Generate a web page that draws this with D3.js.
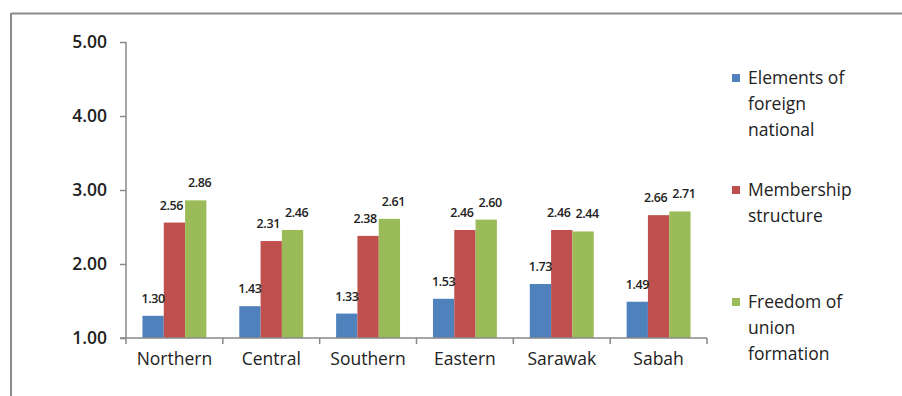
<!DOCTYPE html>
<html>
<head>
<meta charset="utf-8">
<script src="https://cdn.jsdelivr.net/npm/d3@7"></script>
<style>
  html, body { margin: 0; padding: 0; background: #fff; }
  svg { display: block; font-family: "Open Sans", "Noto Sans", sans-serif; }
</style>
</head>
<body>
<svg id="chart" width="902" height="396"></svg>
<script>
// Regions surveyed and the three attitude dimensions (mean scores)
const regions = ["Northern", "Central", "Southern", "Eastern", "Sarawak", "Sabah"];
const seriesNames = [
  ["Elements of", "foreign", "national"],
  ["Membership", "structure"],
  ["Freedom of", "union", "formation"]
];
const foreignElements = [1.30, 1.43, 1.33, 1.53, 1.73, 1.49];
const membership      = [2.56, 2.31, 2.38, 2.46, 2.46, 2.66];
const unionFreedom    = [2.86, 2.46, 2.61, 2.60, 2.44, 2.71];
const yTicks = [1, 2, 3, 4, 5];
const colors = ["#4F81BD", "#C0504D", "#9BBB59"];

const series = [foreignElements, membership, unionFreedom];
// nudge neighbouring value labels apart so they don't collide
const labelNudge = [0, -3, 4];

const svg = d3.select("#chart");

// Outer frame (top and left edges visible)
svg.append("line").attr("x1", 11).attr("x2", 902).attr("y1", 13.5).attr("y2", 13.5)
  .attr("stroke", "#8c8c8c").attr("stroke-width", 2);
svg.append("line").attr("x1", 11).attr("x2", 11).attr("y1", 13).attr("y2", 396)
  .attr("stroke", "#8c8c8c").attr("stroke-width", 2);

const plot = { left: 126, right: 707, top: 42, bottom: 338 };

const x0 = d3.scaleBand().domain(regions).range([plot.left, plot.right])
  .paddingInner(0.34).paddingOuter(0.17);
const x1 = d3.scaleBand().domain(d3.range(series.length)).range([0, x0.bandwidth()]);
const y = d3.scaleLinear().domain([1, 5]).range([plot.bottom, plot.top]);

// Bars
const groups = svg.append("g").selectAll("g").data(regions).join("g")
  .attr("transform", d => `translate(${x0(d)},0)`);

groups.selectAll("rect")
  .data((d, i) => series.map((s, k) => ({ k, v: s[i] })))
  .join("rect")
  .attr("x", d => x1(d.k))
  .attr("width", x1.bandwidth())
  .attr("y", d => y(d.v))
  .attr("height", d => y(1) - y(d.v))
  .attr("fill", d => colors[d.k]);

// Value labels
groups.selectAll("text")
  .data((d, i) => series.map((s, k) => ({ k, v: s[i] })))
  .join("text")
  .attr("x", d => x1(d.k) + x1.bandwidth() / 2 + labelNudge[d.k])
  .attr("y", d => y(d.v) - 13)
  .attr("text-anchor", "middle")
  .attr("font-size", 12.5)
  .attr("font-weight", 600)
  .attr("letter-spacing", -0.4)
  .attr("fill", "#222")
  .text(d => d.v.toFixed(2));

// Y axis
const yAxis = svg.append("g").attr("transform", `translate(${plot.left},0)`)
  .call(d3.axisLeft(y).tickValues(yTicks).tickFormat(d3.format(".2f")).tickSize(6).tickPadding(13));
yAxis.select(".domain").attr("stroke", "#888").attr("stroke-width", 1.5).attr("d", `M0,${plot.top}V${plot.bottom}`);
yAxis.selectAll(".tick line").attr("stroke", "#888").attr("stroke-width", 1.5);
yAxis.selectAll(".tick text").attr("font-size", 17.5).attr("font-weight", 600)
  .attr("fill", "#222").attr("font-family", "Open Sans, sans-serif");

// X axis with separators between regions
const xAxis = svg.append("g").attr("transform", `translate(0,${plot.bottom})`);
xAxis.append("line").attr("x1", plot.left - 6).attr("x2", plot.right)
  .attr("stroke", "#888").attr("stroke-width", 1.5);
const bounds = d3.range(regions.length + 1).map(i => plot.left + (plot.right - plot.left) * i / regions.length);
xAxis.selectAll(".sep").data(bounds).join("line").attr("class", "sep")
  .attr("x1", d => d).attr("x2", d => d).attr("y1", 0).attr("y2", 6)
  .attr("stroke", "#888").attr("stroke-width", 1.5);
xAxis.selectAll(".lbl").data(regions).join("text").attr("class", "lbl")
  .attr("x", (d, i) => (bounds[i] + bounds[i + 1]) / 2)
  .attr("y", 27)
  .attr("text-anchor", "middle")
  .attr("font-size", 17.5)
  .attr("font-weight", 500)
  .attr("fill", "#222")
  .text(d => d);

// Legend
const legendTops = [78, 190, 302];
const legend = svg.append("g");
seriesNames.forEach((lines, k) => {
  const g = legend.append("g");
  g.append("rect").attr("x", 732).attr("y", legendTops[k] - 4).attr("width", 8).attr("height", 8)
    .attr("fill", colors[k]);
  lines.forEach((t, j) => {
    g.append("text").attr("x", 748).attr("y", legendTops[k] + j * 26)
      .attr("dy", "0.35em")
      .attr("font-size", 17.5)
      .attr("font-weight", 500)
      .attr("fill", "#222")
      .text(t);
  });
});
</script>
</body>
</html>
